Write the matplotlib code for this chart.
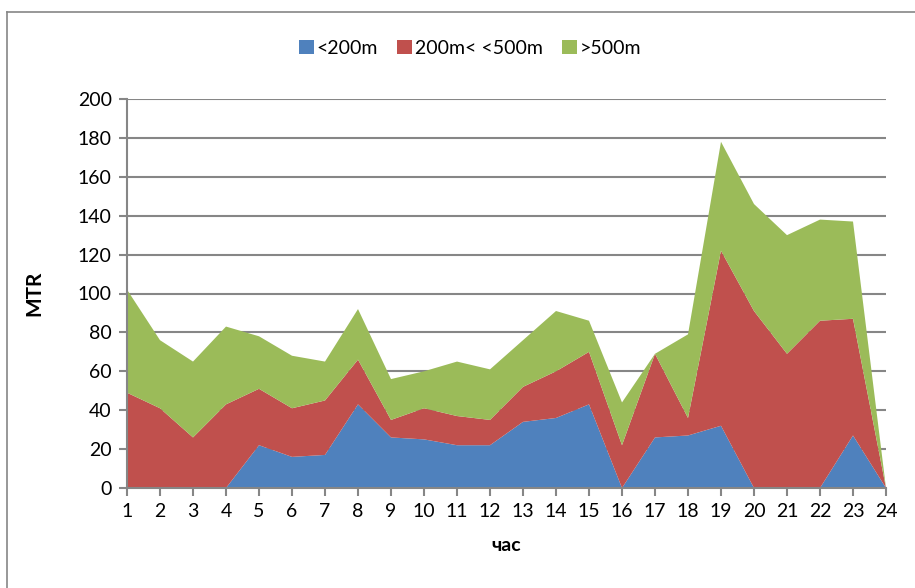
import matplotlib.pyplot as plt
from matplotlib.lines import Line2D
from matplotlib.patches import Patch

# hourly counts, stacked by distance band
hours = list(range(1, 25))
under_200 = [0, 0, 0, 0, 22, 16, 17, 43, 26, 25, 22, 22, 34, 36, 43, 0, 26, 27, 32, 0, 0, 0, 27, 0]
from_200_to_500 = [49, 41, 26, 43, 29, 25, 28, 23, 9, 16, 15, 13, 18, 24, 27, 22, 43, 9, 90, 91, 69, 86, 60, 0]
over_500 = [53, 35, 39, 40, 27, 27, 20, 26, 21, 19, 28, 26, 24, 31, 16, 22, 0, 43, 56, 55, 61, 52, 50, 0]
labels = ["<200m", "200m< <500m", ">500m"]
colors = ["#4F81BD", "#C0504D", "#9BBB59"]

plt.rcParams['font.family'] = ['Lato', 'DejaVu Sans']
grid_col = "#868686"

fig = plt.figure(figsize=(9.15, 5.88), dpi=100)
ax = fig.add_axes([127 / 915, 1 - 488 / 588, (886 - 127) / 915, (488 - 99) / 588])

ax.stackplot(hours, under_200, from_200_to_500, over_500, colors=colors, zorder=3)

ax.set_xlim(1, 24)
ax.set_ylim(0, 200)
ax.set_xticks(hours)
ax.set_yticks(range(0, 201, 20))
ax.yaxis.grid(True, color=grid_col, linewidth=1.5, zorder=1)
ax.set_axisbelow(True)
for s in ["top", "right"]:
    ax.spines[s].set_visible(False)
for s in ["left", "bottom"]:
    ax.spines[s].set_color(grid_col)
    ax.spines[s].set_linewidth(1.5)
    ax.spines[s].set_zorder(4)
ax.tick_params(axis="both", colors=grid_col, width=1.5, length=6, labelcolor="black", labelsize=14)
ax.tick_params(axis="x", pad=5)
ax.tick_params(axis="y", pad=5)

ax.set_ylabel("MTR", fontsize=15, fontweight="bold", labelpad=24)
ax.set_xlabel("час", fontsize=14, fontweight="bold", labelpad=12)

handles = [Patch(facecolor=c, edgecolor="none") for c in colors]
fig.legend(handles, labels, loc="center", bbox_to_anchor=(470 / 915, 1 - 48 / 588), ncol=3,
           frameon=False, fontsize=14, handlelength=0.75, handleheight=0.75,
           handletextpad=0.15, columnspacing=1.0)

# chart frame (left and top edges only)
fig.add_artist(Line2D([7 / 915, 7 / 915], [0, 1 - 12 / 588], color=grid_col, linewidth=1.2))
fig.add_artist(Line2D([7 / 915, 1], [1 - 12 / 588, 1 - 12 / 588], color=grid_col, linewidth=1.2))

fig.savefig("out.png", dpi=100)
